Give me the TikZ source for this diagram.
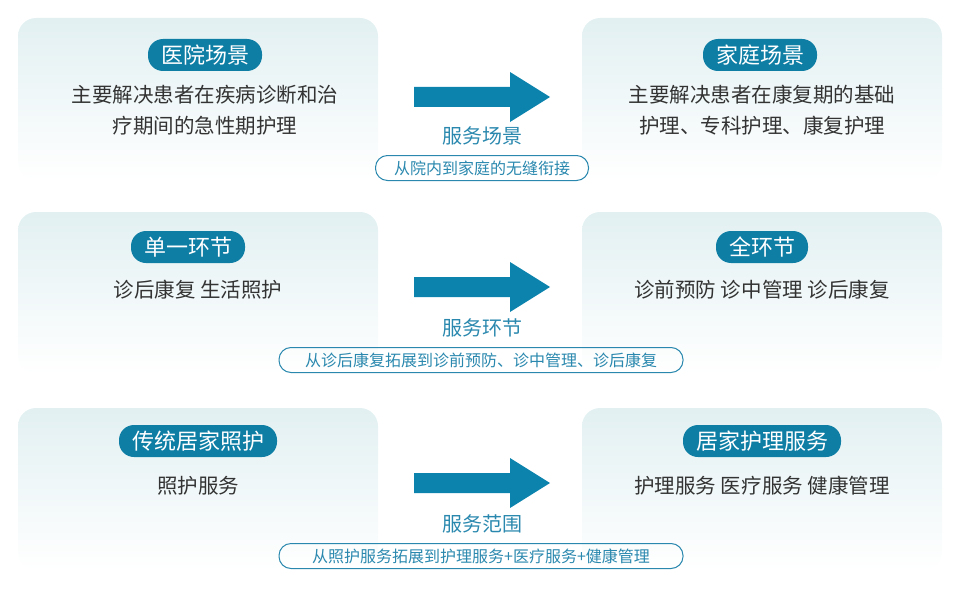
\documentclass[tikz,border=0pt]{standalone}
\usepackage{fontspec}
\setmainfont{Noto Sans CJK SC}
\definecolor{boxtop}{HTML}{E2F0F2}
\definecolor{pillc}{HTML}{0E7EA5}
\definecolor{arrc}{HTML}{0B83AC}
\definecolor{labc}{HTML}{2A88AE}
\definecolor{txt}{HTML}{333333}
\tikzset{x=1pt,y=-1pt,
 panel/.style={rounded corners=18pt,top color=boxtop,bottom color=white,draw=none},
 pill/.style={fill=pillc,text=white,rounded corners=15pt,minimum height=32pt,inner xsep=13pt,font=\fontsize{22}{22}\selectfont},
 body/.style={text=txt,font=\fontsize{20.5}{31}\selectfont,align=center},
 lab/.style={text=labc,font=\fontsize{20}{20}\selectfont},
 sub/.style={draw=labc,line width=1pt,rounded corners=12pt,minimum height=25pt,text=labc,font=\fontsize{16}{16}\selectfont,inner xsep=10pt},
}
\newcommand{\bigarrow}[1]{\fill[arrc] (414,#1-10) -- (510,#1-10) -- (510,#1-25) -- (550,#1) -- (510,#1+25) -- (510,#1+10) -- (414,#1+10) -- cycle;}
\begin{document}
\begin{tikzpicture}
\useasboundingbox (0,0) rectangle (960,591);
\foreach \dy in {0,194,390}{
  \shade[panel] (18,18+\dy) rectangle (378,180+\dy);
  \shade[panel] (582,18+\dy) rectangle (942,180+\dy);
}
% row 1
\node[pill] (p1) at (205,55) {医院场景};
\node[body,anchor=north] (t1) at (205,82) {主要解决患者在疾病诊断和治\\疗期间的急性期护理};
\node[pill] (q1) at (760,55) {家庭场景};
\node[body,anchor=north] (u1) at (762,82) {主要解决患者在康复期的基础\\护理、专科护理、康复护理};
\bigarrow{97}
\node[lab] (l1) at (482,136) {服务场景};
\node[sub,minimum width=213pt] (s1) at (482,168) {从院内到家庭的无缝衔接};
% row 2
\node[pill] (p2) at (188,247) {单一环节};
\node[body] (t2) at (198,290) {诊后康复\ 生活照护};
\node[pill] (q2) at (762,247) {全环节};
\node[body] (u2) at (762,290) {诊前预防\ 诊中管理\ 诊后康复};
\bigarrow{287}
\node[lab] (l2) at (482,328) {服务环节};
\node[sub,minimum width=404pt] (s2) at (481,360) {从诊后康复拓展到诊前预防、诊中管理、诊后康复};
% row 3
\node[pill] (p3) at (198,441) {传统居家照护};
\node[body] (t3) at (198,486) {照护服务};
\node[pill] (q3) at (762,441) {居家护理服务};
\node[body] (u3) at (762,486) {护理服务\ 医疗服务\ 健康管理};
\bigarrow{483}
\node[lab] (l3) at (482,524) {服务范围};
\node[sub,minimum width=404pt] (s3) at (481,556) {从照护服务拓展到护理服务+医疗服务+健康管理};
\end{tikzpicture}
\end{document}
